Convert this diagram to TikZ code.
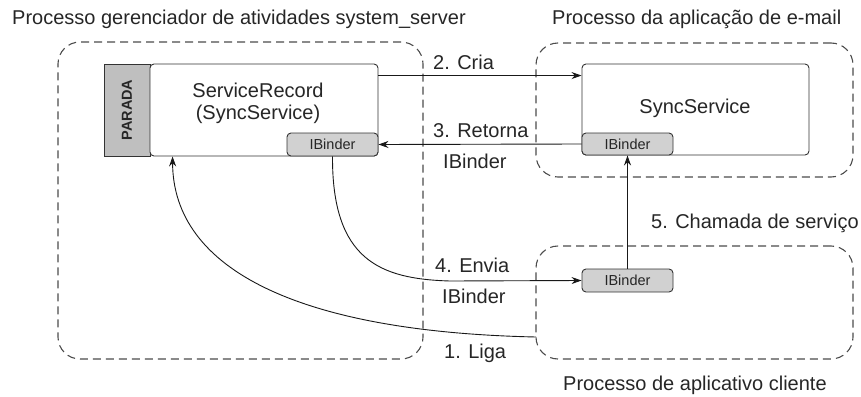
\documentclass[tikz,border=0pt]{standalone}
\usepackage{fontspec}
\setmainfont{Liberation Sans}
\usetikzlibrary{arrows.meta}
\begin{document}
\begin{tikzpicture}[x=1pt,y=-1pt,
  txt/.style={font=\fontsize{20}{22}\selectfont, inner sep=0pt, text=black!85},
  procbox/.style={draw=black!70, line width=1.1pt, dash pattern=on 8pt off 5pt, rounded corners=22pt, inner sep=0pt},
  svcbox/.style={draw=black!80, line width=0.9pt, rounded corners=4pt, fill=white, inner sep=0pt},
  ibox/.style={draw=black!80, line width=0.9pt, rounded corners=4pt, fill=black!18, inner sep=0pt, font=\fontsize{14.5}{16}\selectfont, text=black!85},
  arr/.style={-{Stealth[length=10pt,width=7pt]}, line width=0.9pt, draw=black!90}
]
\useasboundingbox (0,0) rectangle (861,396);
% process boxes
\node[procbox, minimum width=365pt, minimum height=317pt] (left) at (240.5,200.5) {};
\node[procbox, minimum width=317pt, minimum height=134pt] (rt) at (694.5,110) {};
\node[procbox, minimum width=317pt, minimum height=113pt] (br) at (694.5,302.5) {};
% service boxes
\node[draw=black!80, line width=0.9pt, fill=black!25, minimum width=46pt, minimum height=92pt, inner sep=0pt] (parada) at (127,110) {};
\node[rotate=90, font=\bfseries\fontsize{14.5}{16}\selectfont, text=black!85] (paradatxt) at (parada.center) {PARADA};
\node[svcbox, minimum width=228pt, minimum height=92pt] (sr) at (264,110) {};
\node[txt, anchor=base] (srtxt1) at (258,97) {ServiceRecord};
\node[txt, anchor=base] (srtxt2) at (258,119) {(SyncService)};
\node[ibox, minimum width=91pt, minimum height=23pt] (srib) at (332.5,144.5) {IBinder};
\node[svcbox, minimum width=227pt, minimum height=91pt] (ss) at (695.5,109.5) {};
\node[txt, anchor=base] (sstxt) at (695,113) {SyncService};
\node[ibox, minimum width=91pt, minimum height=22pt] (ssib) at (627.5,144) {IBinder};
\node[ibox, minimum width=91pt, minimum height=23pt] (clib) at (627.5,280.5) {IBinder};
% titles
\node[txt, anchor=base west] (t1) at (12,25) {Processo gerenciador de atividades system\_server};
\node[txt, anchor=base west] (t2) at (552,25) {Processo da aplicação de e-mail};
\node[txt, anchor=base west] (t3) at (563,390) {Processo de aplicativo cliente};
% labels
\node[txt, anchor=base west] (l2) at (433,69) {2. Cria};
\node[txt, anchor=base west] (l3) at (433,137) {3. Retorna};
\node[txt, anchor=base west] (l3b) at (443,168) {IBinder};
\node[txt, anchor=base west] (l4) at (435,272) {4. Envia};
\node[txt, anchor=base west] (l4b) at (442,303) {IBinder};
\node[txt, anchor=base west] (l1) at (444,358) {1. Liga};
\node[txt, anchor=base west] (l5) at (651,228) {5. Chamada de serviço};
% connectors
\coordinate (ligastart) at (536,337);
\draw[arr] ([yshift=-12pt]sr.north east) -- ([yshift=-12pt]ss.north west);
\draw[arr] (ssib.west) -- (srib.east);
\draw[arr] (srib.south) .. controls (332,260) and (380,279) .. (450,281) -- (clib.west);
\draw[arr] (clib.north) -- (ssib.south);
\draw[arr] (ligastart) .. controls (300,332) and (173,270) .. ([xshift=23pt]sr.south west);
\end{tikzpicture}
\end{document}
